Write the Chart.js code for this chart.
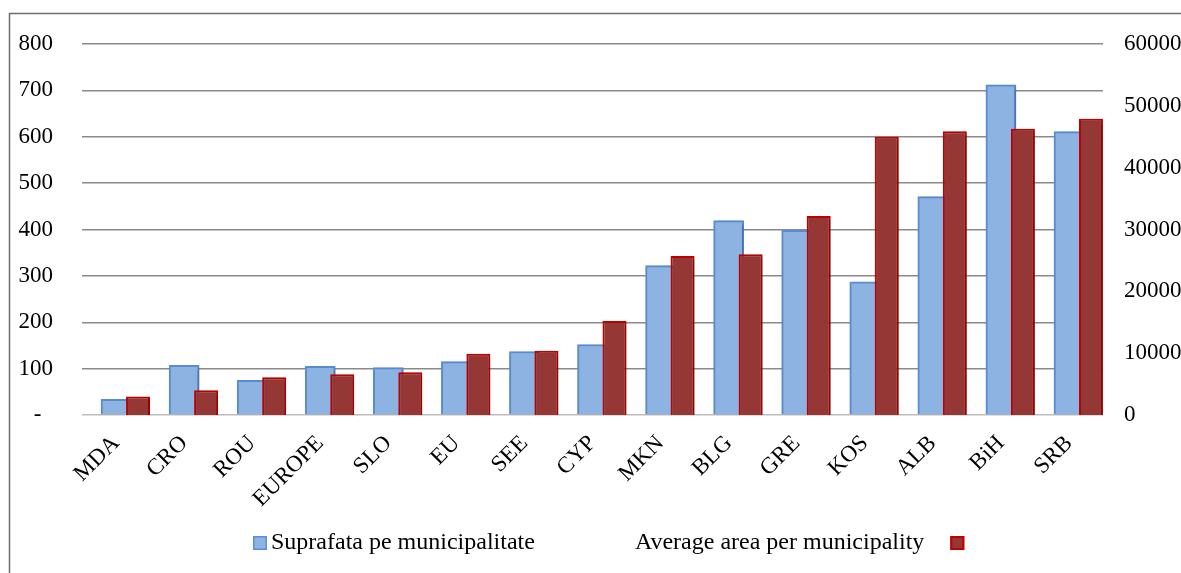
<!DOCTYPE html>
<html>
<head>
<meta charset="utf-8">
<script src="https://cdn.jsdelivr.net/npm/chart.js@4.4.1/dist/chart.umd.min.js"></script>
<style>
  body { margin: 0; background: #fff; }
</style>
</head>
<body>
<canvas id="areaChart" width="1181" height="573"></canvas>

<script>
// values
var countries = ['MDA', 'CRO', 'ROU', 'EUROPE', 'SLO', 'EU', 'SEE', 'CYP', 'MKN', 'BLG', 'GRE', 'KOS', 'ALB', 'BiH', 'SRB'];
var suprafata = [34, 107, 75, 105, 102, 115, 137, 152, 322, 419, 398, 287, 471, 712, 611];
var averageArea = [3000, 4000, 6100, 6600, 6900, 9900, 10400, 15200, 25700, 26000, 32200, 45000, 45900, 46300, 47900];
var leftTicks = [0, 100, 200, 300, 400, 500, 600, 700, 800];
var rightTicks = [0, 10000, 20000, 30000, 40000, 50000, 60000];

var blueFill = '#8db3e2', blueLine = '#5a8fd6';
var redFill = '#953735', redLine = '#c00000';

Chart.defaults.font.family = 'Liberation Serif';
Chart.defaults.font.size = 23;
Chart.defaults.color = '#000';

// grey frame around the whole chart (cut by the right and bottom edges)
var framePlugin = {
	id: 'frame',
	beforeDraw: function(chart) {
		var ctx = chart.ctx;
		ctx.save();
		ctx.fillStyle = '#fff';
		ctx.fillRect(0, 0, chart.width, chart.height);
		ctx.strokeStyle = '#6e6e6e';
		ctx.lineWidth = 1.5;
		ctx.strokeRect(9.5, 13.5, chart.width + 50, chart.height + 50);
		ctx.restore();
	}
};

// soft shadow under the bars
var shadowPlugin = {
	id: 'barShadow',
	beforeDatasetsDraw: function(chart) {
		var ctx = chart.ctx;
		ctx.save();
		ctx.shadowColor = 'rgba(0,0,0,0.28)';
		ctx.shadowBlur = 4;
		ctx.shadowOffsetX = 2;
		ctx.shadowOffsetY = 2;
	},
	afterDatasetsDraw: function(chart) {
		chart.ctx.restore();
	}
};

// legend: box before the first text, box after the second one
var legendPlugin = {
	id: 'oddLegend',
	afterDraw: function(chart) {
		var ctx = chart.ctx;
		var blue = chart.data.datasets[2];
		var red = chart.data.datasets[1];
		var y = 543;
		var x = 253;
		ctx.save();
		ctx.font = '24px "Liberation Serif"';
		ctx.textBaseline = 'middle';

		ctx.fillStyle = blue.backgroundColor;
		ctx.fillRect(x, y - 7, 14, 14);
		ctx.strokeStyle = blue.borderColor;
		ctx.lineWidth = 1.5;
		ctx.strokeRect(x + 0.75, y - 6.25, 12.5, 12.5);
		x += 18;
		ctx.fillStyle = '#000';
		ctx.fillText(blue.label, x, y);
		x += ctx.measureText(blue.label).width + 100;
		ctx.fillText(red.label, x, y);
		x += ctx.measureText(red.label).width + 26;
		ctx.fillStyle = red.backgroundColor;
		ctx.fillRect(x, y - 7, 14, 14);
		ctx.strokeStyle = red.borderColor;
		ctx.lineWidth = 2;
		ctx.strokeRect(x + 1, y - 6, 12, 12);
		ctx.restore();
	}
};

var chart = new Chart(document.getElementById('areaChart').getContext('2d'), {
	type: 'bar',
	data: {
		labels: countries,
		datasets: [
			{
				// empty spacer so the red bar sits in the right half of its category
				label: '',
				data: [],
				yAxisID: 'y',
				categoryPercentage: 1.293,
				barPercentage: 0.545
			},
			{
				label: 'Average area per municipality',
				data: averageArea,
				yAxisID: 'y2',
				backgroundColor: redFill,
				borderColor: redLine,
				borderWidth: 2,
				categoryPercentage: 1.293,
				barPercentage: 0.545
			},
			{
				label: 'Suprafata pe municipalitate',
				data: suprafata,
				yAxisID: 'y',
				grouped: false,
				barThickness: 30,
				backgroundColor: blueFill,
				borderColor: blueLine,
				borderWidth: 2
			}
		]
	},
	options: {
		responsive: false,
		animation: false,
		layout: { padding: { top: 44, bottom: 58, left: 0, right: 0 } },
		plugins: {
			legend: { display: false },
			tooltip: { enabled: false }
		},
		scales: {
			x: {
				grid: { display: false },
				border: { display: false },
				ticks: { autoSkip: false, minRotation: 45, maxRotation: 45, padding: 7 },
				afterFit: function(s) { s.height = 100; }
			},
			y: {
				position: 'left',
				min: 0,
				max: 800,
				afterBuildTicks: function(s) { s.ticks = leftTicks.map(function(v) { return { value: v }; }); },
				ticks: {
					padding: 29,
					callback: function(v) { return v === 0 ? '-  ' : String(v); }
				},
				grid: {
					drawTicks: false,
					lineWidth: 1.5,
					color: function(c) { return c.tick && c.tick.value === 0 ? '#bdbdbd' : '#8a8a8a'; }
				},
				border: { display: false },
				afterFit: function(s) { s.width = 82; }
			},
			y2: {
				position: 'right',
				min: 0,
				max: 60000,
				afterBuildTicks: function(s) { s.ticks = rightTicks.map(function(v) { return { value: v }; }); },
				ticks: {
					padding: 21,
					callback: function(v) { return String(v); }
				},
				grid: { display: false, drawTicks: false },
				border: { display: false },
				afterFit: function(s) { s.width = 78; }
			}
		}
	},
	plugins: [framePlugin, shadowPlugin, legendPlugin]
});
</script>
</body>
</html>
